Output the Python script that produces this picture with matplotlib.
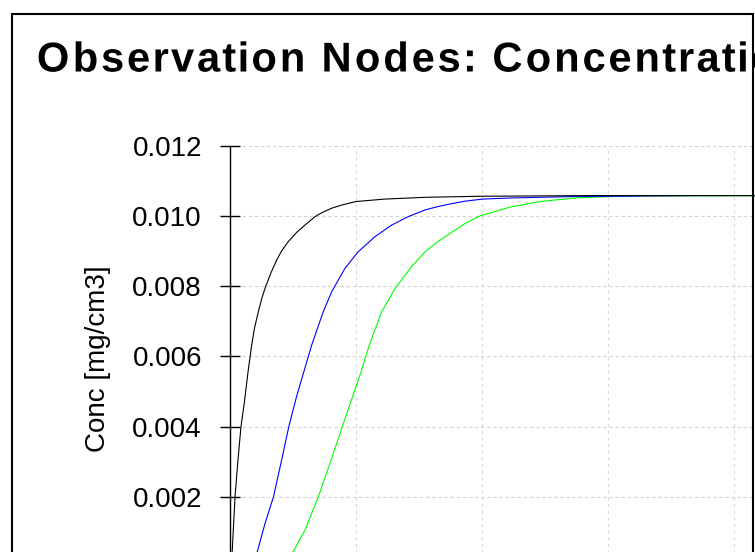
import numpy as np
import matplotlib
matplotlib.use("Agg")
import matplotlib.pyplot as plt
from matplotlib import patheffects
from matplotlib.path import Path
from matplotlib.patches import Rectangle

plt.rcParams['font.family'] = ['Liberation Sans', 'DejaVu Sans']

# --- DATA ---
title = "Observation Nodes: Concentration"
ylabel = "Conc [mg/cm3]"
yticks = [0.002, 0.004, 0.006, 0.008, 0.010, 0.012]
xgrid = [0, 10, 20, 30, 40, 50, 60]

x_black = [0, 0.18, 0.40, 0.61, 0.87, 1.13, 1.45, 1.72, 1.94, 2.25, 2.50, 2.78,
           3.25, 3.70, 4.11, 4.63, 5.29, 5.95, 6.75, 7.28, 8.07, 8.87, 10.0, 11.64,
           12.3, 15.48, 19.84, 29.37, 60.3]
c_black = [0, 0.00048, 0.002, 0.00295, 0.004, 0.00466, 0.00561, 0.00632, 0.0068,
           0.00727, 0.00762, 0.00794, 0.00838, 0.00874, 0.00901, 0.00927, 0.00953,
           0.00974, 0.00998, 0.01009, 0.01022, 0.01031, 0.01041, 0.01046, 0.01048,
           0.01053, 0.01056, 0.01058, 0.01058]

x_blue = [0, 1.19, 1.67, 2.17, 2.78, 3.45, 4.07, 4.67, 5.28, 5.90, 6.48, 7.40,
          8.07, 9.13, 10.18, 11.51, 12.83, 14.15, 15.48, 16.43, 17.46, 18.65,
          20.08, 22.22, 24.60, 26.98, 30.0, 37.3, 60.3]
c_blue = [0, 0, 0.0001, 0.00044, 0.00124, 0.002, 0.003, 0.004, 0.00485, 0.00561,
          0.00632, 0.00727, 0.00784, 0.00851, 0.00898, 0.00941, 0.00974, 0.00998,
          0.01017, 0.01026, 0.01034, 0.01042, 0.01048, 0.01051, 0.01053, 0.01055,
          0.01056, 0.01058, 0.01058]

x_green = [0, 3.97, 4.44, 5.02, 5.95, 7.01, 8.07, 8.91, 9.68, 10.40, 11.03, 12.04,
           13.10, 14.42, 15.48, 16.43, 17.46, 18.65, 19.84, 22.22, 24.60, 27.38,
           30.0, 33.33, 60.3]
c_green = [0, 0, 0.0001, 0.00044, 0.00105, 0.002, 0.0031, 0.004, 0.0048, 0.00556,
           0.0063, 0.00727, 0.00794, 0.00856, 0.00898, 0.00925, 0.0095, 0.00978,
           0.01, 0.01025, 0.01041, 0.01051, 0.01055, 0.01057, 0.01058]


# wide letter spacing of the title (shift every glyph contour by its position)
class LetterSpacing(patheffects.AbstractPathEffect):
    def __init__(self, k):
        super().__init__()
        self.k = k

    def draw_path(self, renderer, gc, tpath, affine, rgbFace=None):
        verts = tpath.vertices.copy()
        codes = tpath.codes
        starts = np.where(codes == Path.MOVETO)[0]
        ends = list(starts[1:]) + [len(verts)]
        for s, e in zip(starts, ends):
            keep = codes[s:e] != Path.CLOSEPOLY
            xs = verts[s:e, 0][keep]
            if len(xs) == 0:
                continue
            cx = 0.5 * (xs.min() + xs.max())
            verts[s:e, 0] += self.k * cx
        renderer.draw_path(gc, Path(verts, codes), affine, rgbFace)


W, H = 755, 552
fig = plt.figure(figsize=(W / 100, H / 100), dpi=100)

# outer frame (cropped at the bottom)
fig.add_artist(Rectangle((12 / W, -0.1), (753 - 12) / W, (1 - 14 / H) + 0.1,
                         transform=fig.transFigure, fill=False, lw=1.5, ec='black'))

fig.text(35 / W, 1 - 71.5 / H, title, fontsize=30, fontweight='bold',
         ha='left', va='baseline', path_effects=[LetterSpacing(0.118)])

ax = fig.add_axes([230 / W, -15 / H, 756 / W, 421.3 / H])

ax.plot(x_green, c_green, color='#00ff00', lw=0.8)
ax.plot(x_blue, c_blue, color='#0000ff', lw=0.8)
ax.plot(x_black, c_black, color='black', lw=0.8)

ax.set_xlim(0, 60)
ax.set_ylim(0, 0.012)
ax.set_xticks(xgrid)
ax.set_yticks(yticks)
ax.set_yticklabels([f"{v:.3f}" for v in yticks])

for side in ['top', 'right', 'bottom']:
    ax.spines[side].set_visible(False)
ax.spines['left'].set_linewidth(1.0)

ax.tick_params(axis='y', direction='inout', length=14.4, width=1.0, pad=13,
               labelsize=20)
ax.tick_params(axis='x', length=0, labelbottom=False)

ax.xaxis.grid(True, color='#d6d6d6', lw=0.8, ls=(0, (2.5, 3.5)))
ax.yaxis.grid(True, color='#d3d3d3', lw=0.8, ls=(0, (3, 2.5)))

ax.set_ylabel(ylabel, fontsize=20)
ax.yaxis.set_label_coords(-0.158, 0.494)

fig.savefig('out.png', dpi=100)
